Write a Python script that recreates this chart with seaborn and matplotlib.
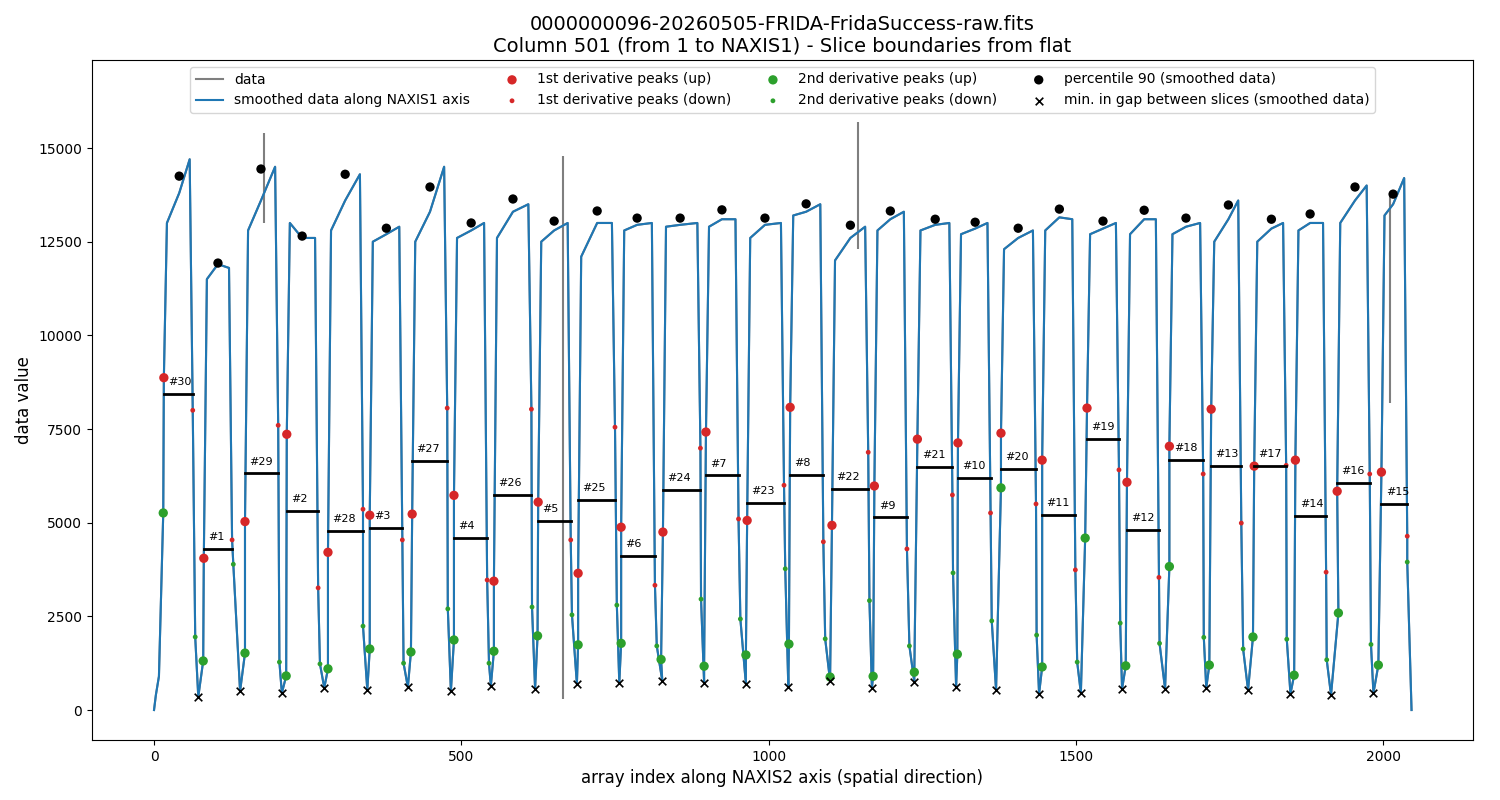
import numpy as np
import pandas as pd
import matplotlib
matplotlib.use("Agg")
import matplotlib.pyplot as plt
import seaborn as sns

# ---- values (index along NAXIS2, data value) ----
gap_x = [72, 140, 208, 277, 347, 413, 483, 548, 620, 688, 757, 827, 895, 963, 1032,
         1100, 1168, 1237, 1305, 1370, 1440, 1508, 1575, 1645, 1712, 1780, 1849, 1915, 1984]
gap_y = [350, 500, 450, 590, 530, 610, 500, 640, 560, 690, 720, 770, 720, 690, 610,
         770, 590, 750, 610, 530, 430, 450, 560, 560, 590, 530, 430, 400, 450]

up1_x = [16, 81, 148, 216, 283, 351, 420, 488, 553, 625, 690, 760, 828, 898, 965,
         1035, 1103, 1172, 1242, 1308, 1378, 1445, 1518, 1583, 1652, 1720, 1790, 1857, 1925, 1997]
up1_y = [8870, 4050, 5030, 7360, 4210, 5200, 5230, 5730, 3440, 5550, 3650, 4880, 4750, 7420, 5060,
         8080, 4930, 5980, 7230, 7130, 7390, 6670, 8060, 6080, 7040, 8030, 6510, 6670, 5840, 6350]

dn1_x = [63, 127, 202, 267, 340, 404, 477, 542, 614, 678, 750, 815, 889, 951, 1025,
         1089, 1162, 1225, 1299, 1361, 1435, 1499, 1570, 1635, 1707, 1769, 1842, 1907, 1978, 2039]
dn1_y = [8000, 4540, 7600, 3260, 5360, 4540, 8060, 3470, 8030, 4540, 7550, 3330, 6990, 5100, 6000,
         4490, 6880, 4300, 5740, 5260, 5500, 3740, 6410, 3540, 6300, 4990, 6530, 3680, 6300, 4640]

up2_x = [15, 80, 148, 215, 283, 351, 418, 488, 553, 624, 690, 760, 825, 895, 963,
         1033, 1100, 1170, 1237, 1307, 1378, 1445, 1515, 1581, 1652, 1717, 1788, 1855, 1927, 1992]
up2_y = [5260, 1310, 1520, 910, 1100, 1630, 1550, 1870, 1570, 1980, 1740, 1780, 1350, 1170, 1470,
         1760, 880, 900, 1010, 1490, 5930, 1150, 4590, 1180, 3830, 1200, 1950, 930, 2590, 1200]

dn2_x = [67, 129, 204, 270, 340, 406, 478, 545, 615, 680, 753, 818, 890, 954, 1027,
         1092, 1164, 1229, 1300, 1363, 1436, 1502, 1572, 1636, 1708, 1772, 1843, 1908, 1980, 2039]
dn2_y = [1950, 3890, 1280, 1230, 2240, 1250, 2700, 1250, 2750, 2540, 2800, 1710, 2960, 2430, 3770,
         1900, 2920, 1710, 3660, 2380, 2000, 1280, 2320, 1780, 1940, 1630, 1890, 1340, 1750, 3950]

p90_x = [41, 104, 174, 241, 311, 378, 449, 516, 584, 651, 721, 786, 856, 924, 994,
         1061, 1133, 1198, 1271, 1336, 1406, 1473, 1544, 1611, 1679, 1748, 1818, 1881, 1954, 2016]
p90_y = [14250, 11930, 14440, 12650, 14300, 12860, 13960, 13000, 13640, 13050, 13320, 13130, 13130, 13350, 13130,
         13510, 12940, 13320, 13100, 13020, 12860, 13370, 13050, 13340, 13130, 13480, 13100, 13240, 13960, 13770]

plat_start = [13000, 11500, 12800, 13000, 12800, 12500, 12500, 12600, 12600, 12500, 12100, 12800, 12900, 12900, 12600,
              13200, 12000, 12800, 12800, 12700, 12300, 12800, 12700, 12700, 12700, 12500, 12500, 12800, 13000, 13200]
plat_mid = [13800, 11900, 13600, 12600, 13600, 12700, 13300, 12800, 13300, 12800, 13000, 12950, 12950, 13100, 12950,
            13300, 12600, 13100, 12950, 12850, 12600, 13150, 12850, 13100, 12900, 13100, 12850, 13000, 13600, 13500]
plat_end = [14700, 11800, 14500, 12600, 14300, 12900, 14500, 13000, 13500, 13000, 13000, 13000, 13000, 13100, 13000,
            13500, 12900, 13300, 13000, 13000, 12800, 13100, 13000, 13100, 13000, 13600, 13000, 13000, 14000, 14200]

spike_x = [179, 666, 1146, 2011]
spike_lo = [13000, 300, 12300, 8200]
spike_hi = [15400, 14800, 15700, 13800]

slice_names = ["#30", "#1", "#29", "#2", "#28", "#3", "#27", "#4", "#26", "#5", "#25", "#6", "#24", "#7", "#23",
               "#8", "#22", "#9", "#21", "#10", "#20", "#11", "#19", "#12", "#18", "#13", "#17", "#14", "#16", "#15"]

# ---- build the curve from the read vertices ----
vx, vy = [0, 3, 8], [0, 400, 900]
for i in range(30):
    if i > 0:
        vx.append(gap_x[i - 1]); vy.append(gap_y[i - 1])
    vx += [up2_x[i], up1_x[i], up1_x[i] + 5, p90_x[i], dn1_x[i] - 5, dn1_x[i], dn2_x[i]]
    vy += [up2_y[i], up1_y[i], plat_start[i], plat_mid[i], plat_end[i], dn1_y[i], dn2_y[i]]
vx.append(2046); vy.append(0)
curve = pd.DataFrame({"x": vx, "y": vy})

fig = plt.figure(figsize=(15, 8), dpi=100)
ax = fig.add_axes([0.0613, 0.075, 0.9207, 0.85])

ax.vlines(spike_x, spike_lo, spike_hi, color="tab:gray", lw=1.5, zorder=1)
sns.lineplot(data=curve, x="x", y="y", sort=False, estimator=None, color="tab:gray", lw=1.5,
             ax=ax, label="data", zorder=1)
sns.lineplot(data=curve, x="x", y="y", sort=False, estimator=None, color="tab:blue", lw=1.5,
             ax=ax, label="smoothed data along NAXIS1 axis", zorder=2)
sns.scatterplot(x=up1_x, y=up1_y, color="tab:red", s=45, edgecolor="none", ax=ax,
                label="1st derivative peaks (up)", zorder=3)
sns.scatterplot(x=dn1_x, y=dn1_y, color="tab:red", s=12, edgecolor="none", ax=ax,
                label="1st derivative peaks (down)", zorder=3)
sns.scatterplot(x=up2_x, y=up2_y, color="tab:green", s=45, edgecolor="none", ax=ax,
                label="2nd derivative peaks (up)", zorder=3)
sns.scatterplot(x=dn2_x, y=dn2_y, color="tab:green", s=12, edgecolor="none", ax=ax,
                label="2nd derivative peaks (down)", zorder=3)
sns.scatterplot(x=p90_x, y=p90_y, color="black", s=45, edgecolor="none", ax=ax,
                label="percentile 90 (smoothed data)", zorder=3)
sns.scatterplot(x=gap_x, y=gap_y, color="black", marker="x", s=30, linewidth=1.2, ax=ax,
                label="min. in gap between slices (smoothed data)", zorder=3)

for i in range(30):
    ym = (up1_y[i] + dn1_y[i]) / 2
    ax.plot([up1_x[i], dn1_x[i]], [ym, ym], color="black", lw=2, zorder=4)
    ax.text(up1_x[i] + 7, ym + 180, slice_names[i], fontsize=8, ha="left", va="bottom")

ax.set_xlim(-101, 2146)
ax.set_ylim(-800, 17350)
ax.set_xticks([0, 500, 1000, 1500, 2000])
ax.set_yticks([0, 2500, 5000, 7500, 10000, 12500, 15000])
ax.set_xlabel("array index along NAXIS2 axis (spatial direction)", fontsize=12)
ax.set_ylabel("data value", fontsize=12)
ax.set_title("0000000096-20260505-FRIDA-FridaSuccess-raw.fits\n"
             "Column 501 (from 1 to NAXIS1) - Slice boundaries from flat", fontsize=14)
ax.legend(loc="upper center", ncol=4, fontsize=10)
fig.savefig("out.png", dpi=100)
